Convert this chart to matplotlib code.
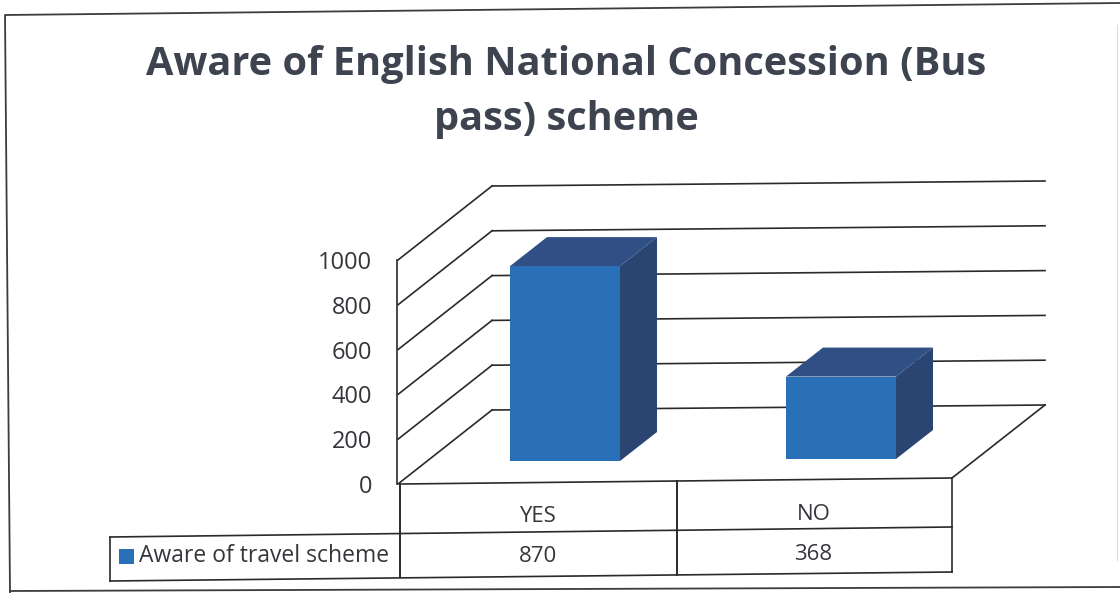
import matplotlib
matplotlib.use("Agg")
import matplotlib.pyplot as plt
from matplotlib.patches import Polygon, Rectangle

title = "Aware of English National Concession (Bus\npass) scheme"
categories = ["YES", "NO"]
values = [870, 368]
series_name = "Aware of travel scheme"
y_ticks = [0, 200, 400, 600, 800, 1000]

W, H = 1120, 593
plt.rcParams["font.family"] = ["Open Sans", "DejaVu Sans"]
fig = plt.figure(figsize=(W / 100, H / 100), dpi=100, facecolor="white")
ax = fig.add_axes([0, 0, 1, 1])
ax.set_xlim(0, W)
ax.set_ylim(H, 0)
ax.axis("off")

PX_PER_UNIT = 0.224
Y0 = 484
DX, DY = 94, -74
ink = "#2a2a2a"
txt = "#33363b"
LW = 1.2

# chart frame
ax.plot([1120, 5, 10], [3, 15, 593], color="#3c3c3c", lw=1.3)
ax.plot([10, 1120], [591, 587], color="#3c3c3c", lw=1.3)
ax.plot([1117, 1117], [25, 560], color="#dddddd", lw=0.8)

ax.text(566, 92, title, ha="center", va="center", fontsize=28.6, fontweight="bold",
        color="#3d4450", linespacing=1.55)

# walls and floor
ax.plot([402, 952, 1045], [484, 478, 405], color=ink, lw=LW)
for t in y_ticks:
    y = Y0 - t * PX_PER_UNIT
    ax.plot([398, 398 + DX], [y, y + DY], color=ink, lw=LW)
    ax.plot([398 + DX, 1045], [y + DY, y + DY - 5], color=ink, lw=LW)
    ax.text(372, y + 3, str(t), ha="right", va="center", fontsize=17, color=txt)
ax.plot([397, 397], [Y0 - 1000 * PX_PER_UNIT, Y0], color=ink, lw=LW)

# 3-D bars
bar_left = [510, 786]
bar_base = [461, 459]
bw, ddx, ddy = 110, 37, -29
for x, base, v in zip(bar_left, bar_base, values):
    top = base - v * PX_PER_UNIT
    ax.add_patch(Polygon([(x + bw, base), (x + bw + ddx, base + ddy),
                          (x + bw + ddx, top + ddy), (x + bw, top)],
                         fc="#2a4572", ec="none", zorder=3))
    ax.add_patch(Polygon([(x, top), (x + ddx, top + ddy), (x + bw + ddx, top + ddy),
                          (x + bw, top)], fc="#2f4f85", ec="none", zorder=3))
    ax.add_patch(Rectangle((x, top), bw, base - top, fc="#2a70b8", ec="none", zorder=4))

# data table
cols = [400, 677, 952]
ax.plot([400, 400], [484, 577], color=ink, lw=1.4)
ax.plot([677, 677], [481, 575], color=ink, lw=1.4)
ax.plot([952, 952], [478, 572], color=ink, lw=LW)
ax.plot([110, 952], [537, 527], color=ink, lw=LW)
ax.plot([110, 952], [581, 572], color=ink, lw=LW)
ax.plot([110, 110], [537, 581], color=ink, lw=LW)
for i, (c, v) in enumerate(zip(categories, values)):
    xc = (cols[i] + cols[i + 1]) / 2 - 1
    ax.text(xc, 516 - 2 * i, c, ha="center", va="center", fontsize=16, color=txt)
    ax.text(xc, 557 - 2 * i, str(v), ha="center", va="center", fontsize=16, color=txt)
ax.add_patch(Rectangle((119, 549), 15, 15, fc="#2a70b8", ec="none"))
ax.text(139, 556, series_name, ha="left", va="center", fontsize=16.5, color=txt)

fig.savefig("out.png", dpi=100, facecolor="white")
